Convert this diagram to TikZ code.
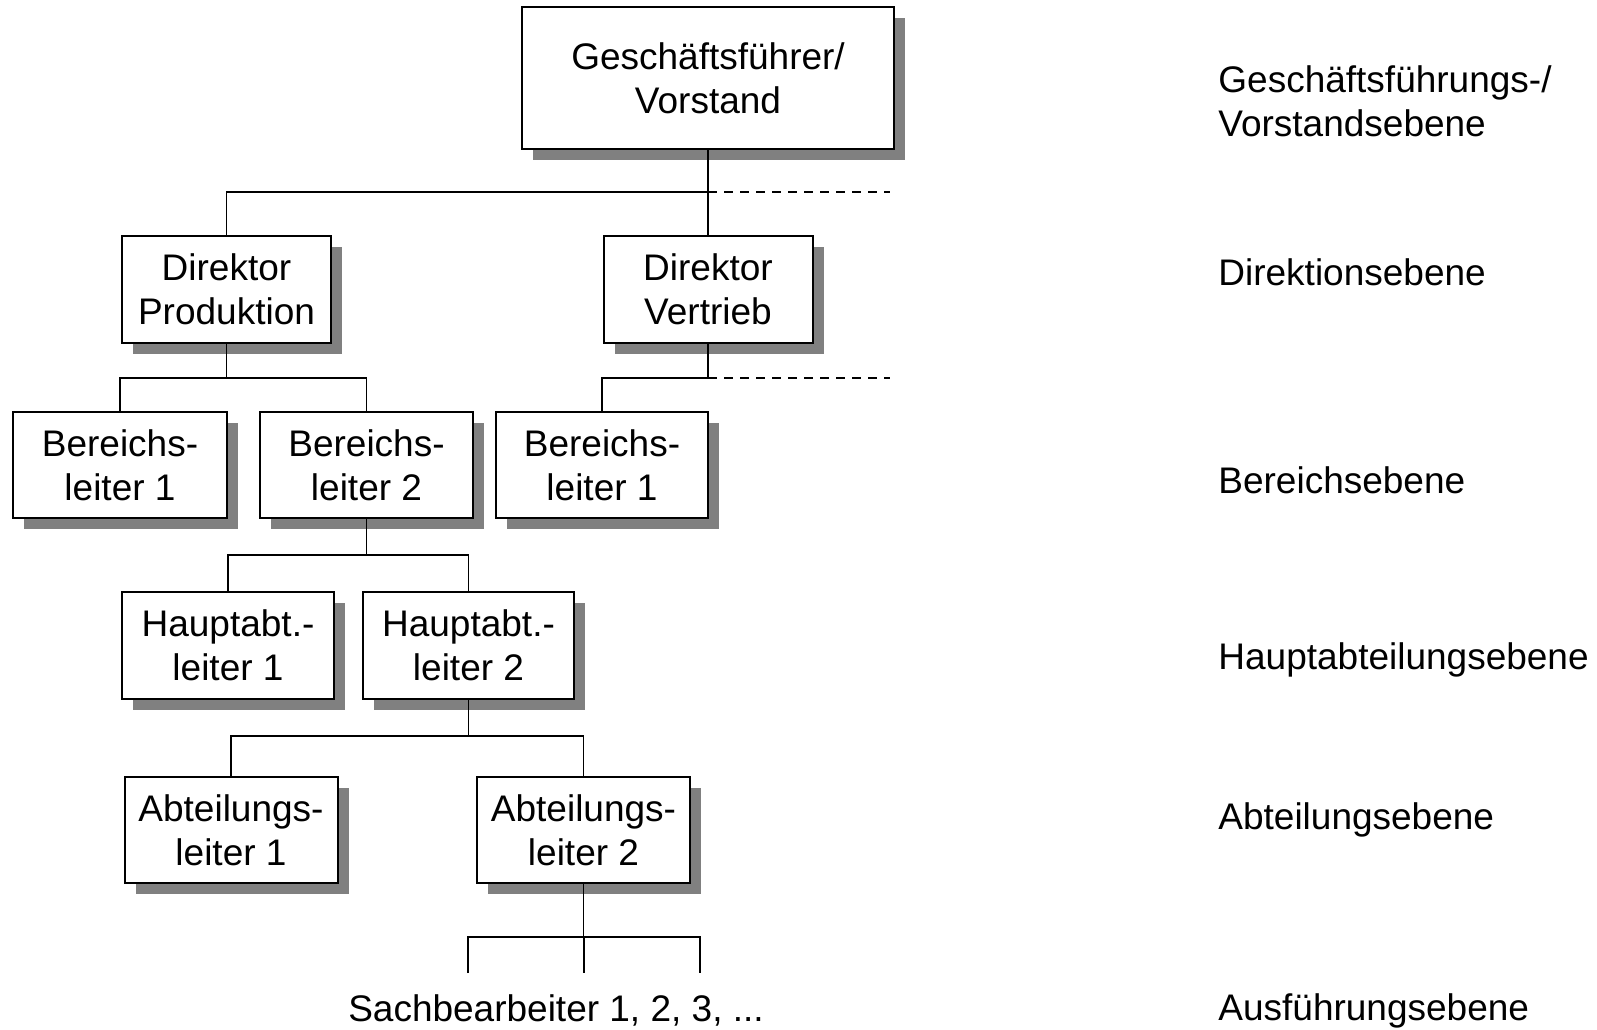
\documentclass[tikz,border=0pt]{standalone}
\usepackage{fontspec}
\setmainfont{Liberation Sans}
\usetikzlibrary{shadows}
\definecolor{shadowgray}{HTML}{808080}
\begin{document}
\begin{tikzpicture}[x=0.5pt,y=-0.5pt,
  orgbox/.style={draw=black,line width=1pt,fill=white,align=center,inner sep=0pt,
    font=\fontsize{18.5}{22}\selectfont,
    drop shadow={shadow xshift=5.5pt,shadow yshift=-5.5pt,fill=shadowgray,opacity=1}},
  link/.style={line width=0.75pt},
  level/.style={dashed,line width=0.6pt,dash pattern=on 4.5pt off 3.5pt},
  lvltext/.style={anchor=west,align=left,inner sep=0pt,font=\fontsize{18.5}{22}\selectfont}]
\useasboundingbox (0,0) rectangle (1597,1029);
\fill[white] (0,0) rectangle (1597,1029);

% boxes
\node[orgbox,minimum width=186pt,minimum height=71pt] (gf) at (708,78) {Gesch\"aftsf\"uhrer/\\Vorstand};
\node[orgbox,minimum width=104.5pt,minimum height=53.5pt] (dp) at (226.5,289.5) {Direktor\\Produktion};
\node[orgbox,minimum width=104.5pt,minimum height=53.5pt] (dv) at (708,289.5) {Direktor\\Vertrieb};
\node[orgbox,minimum width=107pt,minimum height=53pt] (b1) at (120,465) {Bereichs-\\leiter 1};
\node[orgbox,minimum width=106.5pt,minimum height=53pt] (b2) at (366.5,465) {Bereichs-\\leiter 2};
\node[orgbox,minimum width=106pt,minimum height=53pt] (b3) at (602,465) {Bereichs-\\leiter 1};
\node[orgbox,minimum width=106pt,minimum height=53.5pt] (h1) at (228,645) {Hauptabt.-\\leiter 1};
\node[orgbox,minimum width=105.5pt,minimum height=53.5pt] (h2) at (468.5,645) {Hauptabt.-\\leiter 2};
\node[orgbox,minimum width=106.5pt,minimum height=53pt] (a1) at (231,830) {Abteilungs-\\leiter 1};
\node[orgbox,minimum width=106.5pt,minimum height=53pt] (a2) at (583.5,830) {Abteilungs-\\leiter 2};
\node[inner sep=0pt,font=\fontsize{18.5}{22}\selectfont] (sb) at (556,1010) {Sachbearbeiter 1, 2, 3, ...};

% junction levels
\coordinate (j1) at (0,192);
\coordinate (j2) at (0,378);
\coordinate (j3) at (0,555);
\coordinate (j4) at (0,736);
\coordinate (j5) at (0,937);
\coordinate (e1) at (890,192);
\coordinate (e2) at (890,378);
\coordinate (s1) at (468,973);
\coordinate (s2) at (584,973);
\coordinate (s3) at (700,973);

% connectors
\draw[link] (gf.south) -- (gf.south |- j1);
\draw[link] (dp.north) |- (gf.south |- j1) -- (dv.north);
\draw[level] (gf.south |- j1) -- (e1);

\draw[link] (dv.south) -- (dv.south |- j2) -| (b3.north);
\draw[level] (dv.south |- j2) -- (e2);

\draw[link] (dp.south) -- (dp.south |- j2);
\draw[link] (b1.north) |- (b2.north |- j2) -- (b2.north);

\draw[link] (b2.south) -- (b2.south |- j3);
\draw[link] (h1.north) |- (h2.north |- j3) -- (h2.north);

\draw[link] (h2.south) -- (h2.south |- j4);
\draw[link] (a1.north) |- (a2.north |- j4) -- (a2.north);

\draw[link] (a2.south) -- (a2.south |- j5);
\draw[link] (s1) |- (s3 |- j5) -- (s3);
\draw[link] (s2 |- j5) -- (s2);

% level labels
\node[lvltext] (t1) at (1218,101) {Gesch\"aftsf\"uhrungs-/\\Vorstandsebene};
\node[lvltext] (t2) at (1218,272) {Direktionsebene};
\node[lvltext] (t3) at (1218,480) {Bereichsebene};
\node[lvltext] (t4) at (1218,660) {Hauptabteilungsebene};
\node[lvltext] (t5) at (1218,820) {Abteilungsebene};
\node[lvltext] (t6) at (1218,1011) {Ausf\"uhrungsebene};
\end{tikzpicture}
\end{document}
